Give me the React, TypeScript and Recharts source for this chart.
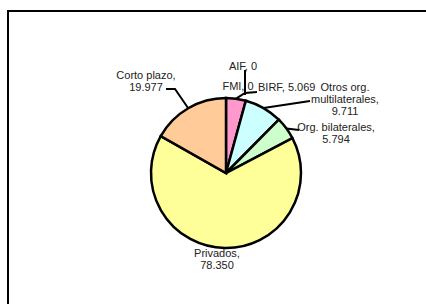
import { PieChart, Pie, Cell } from "recharts";

const names = [
  "FMI",
  "AIF",
  "BIRF",
  "Otros org. multilaterales",
  "Org. bilaterales",
  "Privados",
  "Corto plazo",
];
const values = [0, 0, 5.069, 9.711, 5.794, 78.35, 19.977];
const labelText = [
  ["FMI, 0"],
  ["AIF, 0"],
  ["BIRF, 5.069"],
  ["Otros org.", "multilaterales,", "9.711"],
  ["Org. bilaterales,", "5.794"],
  ["Privados,", "78.350"],
  ["Corto plazo,", "19.977"],
];
const colors = ["#FF99CC", "#FF99CC", "#FF99CC", "#CCFFFF", "#CCFFCC", "#FFFF99", "#FFCC99"];

const data = names.map((name, i) => ({ name, value: values[i] }));

// label placement relative to pie centre, Excel style
const labelLayout: {
  dx: number;
  dy: number;
  anchor: "start" | "middle" | "end";
  fromEdge: boolean;
  leader: number[][];
}[] = [
  { dx: 12, dy: -87, anchor: "middle", fromEdge: false, leader: [] },
  { dx: 17, dy: -107, anchor: "middle", fromEdge: false, leader: [[19, -103], [19, -78]] },
  { dx: 32, dy: -86, anchor: "start", fromEdge: true, leader: [[19, -80], [31, -81]] },
  { dx: 119, dy: -86, anchor: "middle", fromEdge: true, leader: [[84, -72]] },
  { dx: 110, dy: -46, anchor: "middle", fromEdge: true, leader: [[73, -43]] },
  { dx: -9, dy: 80, anchor: "middle", fromEdge: false, leader: [] },
  { dx: -80, dy: -98, anchor: "middle", fromEdge: true, leader: [[-51, -84], [-60, -84]] },
];

const RAD = Math.PI / 180;

function renderLabel(props: any) {
  const { cx, cy, midAngle, outerRadius, index } = props;
  const lay = labelLayout[index];
  const pts: number[][] = [];
  if (lay.fromEdge) {
    pts.push([
      cx + outerRadius * Math.cos(-midAngle * RAD),
      cy + outerRadius * Math.sin(-midAngle * RAD),
    ]);
  }
  lay.leader.forEach((p) => pts.push([cx + p[0], cy + p[1]]));
  const lines = labelText[index];
  return (
    <g key={`lbl-${index}`}>
      {pts.length > 1 && (
        <polyline
          points={pts.map((p) => p.join(",")).join(" ")}
          fill="none"
          stroke="#000"
          strokeWidth={2}
        />
      )}
      <text
        x={cx + lay.dx}
        y={cy + lay.dy + 4}
        textAnchor={lay.anchor}
        fontSize={11}
        fill="#222"
        fontFamily="'Liberation Sans', Arial, sans-serif"
      >
        {lines.map((l, k) => (
          <tspan key={k} x={cx + lay.dx} dy={k === 0 ? 0 : 12}>
            {l}
          </tspan>
        ))}
      </text>
    </g>
  );
}

export default function App() {
  return (
    <div
      style={{
        position: "fixed",
        left: 7,
        top: 10,
        width: 434,
        height: 322,
        border: "2px solid #000",
        background: "#fff",
      }}
    >
      <PieChart width={434} height={322}>
        <Pie
          data={data}
          dataKey="value"
          nameKey="name"
          startAngle={90}
          endAngle={-270}
          outerRadius={75}
          stroke="#000"
          strokeWidth={2.5}
          label={renderLabel}
          labelLine={false}
          isAnimationActive={false}
        >
          {data.map((d, i) => (
            <Cell key={d.name} fill={colors[i]} />
          ))}
        </Pie>
      </PieChart>
    </div>
  );
}
